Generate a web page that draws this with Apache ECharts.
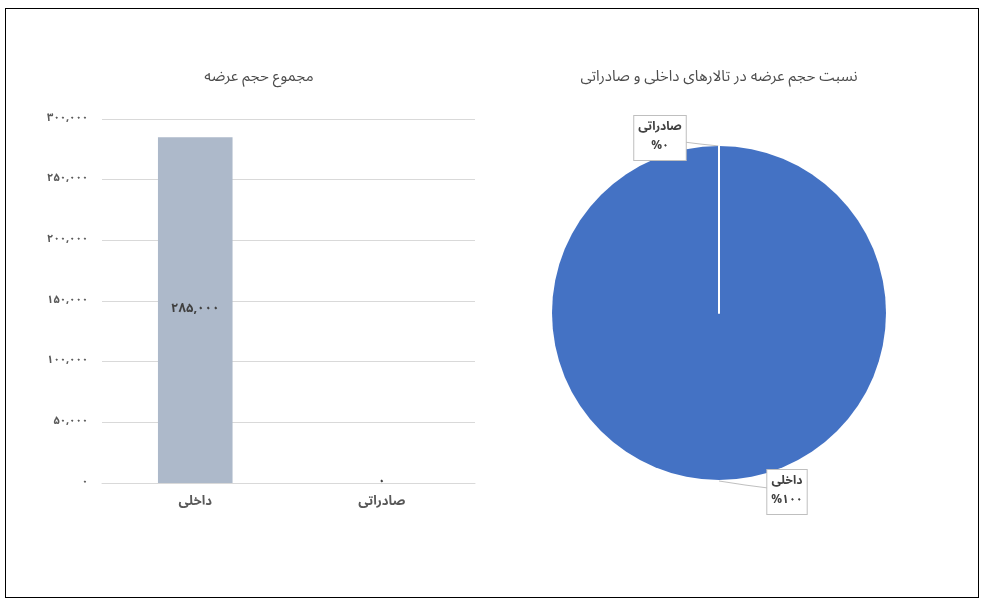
<!DOCTYPE html>
<html>
<head>
<meta charset="utf-8">
<script src="https://cdn.jsdelivr.net/npm/echarts@6/dist/echarts.min.js"></script>
<style>
html,body{margin:0;padding:0;background:#fff;}
#c{width:983px;height:601px;}
#frame{position:absolute;left:5px;top:8px;width:972px;height:588px;border:1px solid #000;pointer-events:none;}
</style>
</head>
<body>
<div id="c"></div>
<div id="frame"></div>
<script>
// ---- data ----
const barTitle = 'مجموع حجم عرضه';
const pieTitle = 'نسبت حجم عرضه در تالارهای داخلی و صادراتی';
const categories = ['داخلی', 'صادراتی'];
const volumes = [285000, 0];
const yTicks = [0, 50000, 100000, 150000, 200000, 250000, 300000];

const FONT = '"Noto Sans Arabic", "DejaVu Sans", "Noto Sans", sans-serif';
const fa = s => String(s).replace(/\d/g, d => '۰۱۲۳۴۵۶۷۸۹'[d]);
const fmt = v => fa(Number(v).toLocaleString('en-US'));

const chart = echarts.init(document.getElementById('c'));
const PC = [719, 313], PR = 167;

chart.setOption({
  backgroundColor: '#fff',
  textStyle: {fontFamily: FONT},
  title: [
    {text: barTitle, left: 254, top: 66, textAlign: 'center',
     textStyle: {fontFamily: FONT, fontSize: 15, fontWeight: 'normal', color: '#4d4d4d'}},
    {text: pieTitle, left: 714, top: 66, textAlign: 'center',
     textStyle: {fontFamily: FONT, fontSize: 15, fontWeight: 'normal', color: '#4d4d4d'}}
  ],
  grid: {left: 102, top: 119, width: 373, height: 364, containLabel: false},
  xAxis: {
    type: 'category', data: categories,
    axisLine: {lineStyle: {color: '#d9d9d9'}},
    axisTick: {show: false},
    axisLabel: {color: '#595959', fontSize: 13, margin: 14, fontFamily: FONT, fontWeight: 'bold'}
  },
  yAxis: {
    type: 'value', min: yTicks[0], max: yTicks[yTicks.length - 1], interval: yTicks[1] - yTicks[0],
    axisLine: {show: false}, axisTick: {show: false},
    splitLine: {lineStyle: {color: '#d9d9d9'}},
    axisLabel: {color: '#595959', fontSize: 11, margin: 14, fontFamily: FONT, fontWeight: 'bold',
                formatter: v => fmt(v)}
  },
  series: [
    {
      type: 'bar', data: volumes, barWidth: '40%',
      itemStyle: {color: '#adb9ca'},
      label: {show: true, position: 'inside', color: '#404040', fontSize: 13, fontFamily: FONT,
              fontWeight: 'bold', formatter: p => fmt(p.value)},
      emphasis: {disabled: true}
    },
    {
      type: 'pie', center: PC, radius: PR, startAngle: 90, clockwise: true, minAngle: 0,
      stillShowZeroSum: true, avoidLabelOverlap: false,
      data: [
        {name: categories[0], value: volumes[0], itemStyle: {color: '#4472c4', borderWidth: 0}},
        {name: categories[1], value: volumes[1], itemStyle: {color: '#4472c4', borderColor: '#ffffff', borderWidth: 2}}
      ],
      label: {
        show: true, position: 'outside', color: '#404040', fontSize: 12, fontFamily: FONT,
        fontWeight: 'bold',
        backgroundColor: '#fff', borderColor: '#bfbfbf', borderWidth: 1, padding: [3, 4],
        lineHeight: 19, align: 'center',
        formatter: p => p.name + '\n%' + fa(Math.round(p.percent))
      },
      labelLine: {show: true, lineStyle: {color: '#bfbfbf', width: 1}},
      labelLayout: function (p) {
        if (p.dataIndex === 1) {
          return {x: 660, y: 138, align: 'center', verticalAlign: 'middle',
                  labelLinePoints: [[PC[0], PC[1] - PR], [700, PC[1] - PR - 2], [684, 142]]};
        }
        return {x: 787, y: 492, align: 'center', verticalAlign: 'middle',
                labelLinePoints: [[PC[0], PC[1] + PR + 1], [745, 485], [768, 488]]};
      },
      emphasis: {disabled: true}
    }
  ]
});
</script>
</body>
</html>
